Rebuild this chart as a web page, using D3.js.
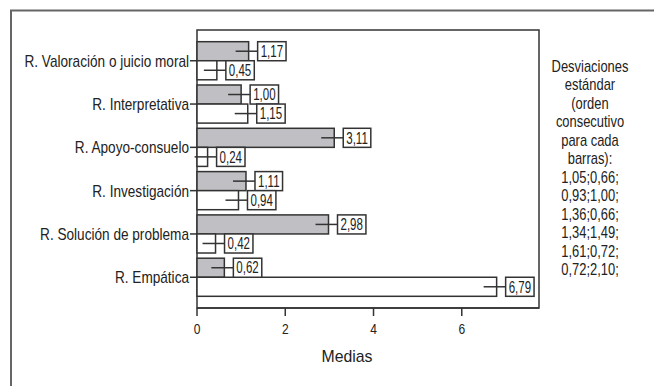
<!DOCTYPE html>
<html>
<head>
<meta charset="utf-8">
<script src="https://cdn.jsdelivr.net/npm/d3@7"></script>
<style>
  body { margin: 0; background: #fff; }
  svg text { font-family: "Liberation Sans", Arial, sans-serif; fill: #222; }
</style>
</head>
<body>
<svg id="chart" width="654" height="386"></svg>
<script>
var categories = ['R. Valoración o juicio moral', 'R. Interpretativa', 'R. Apoyo-consuelo',
  'R. Investigación', 'R. Solución de problema', 'R. Empática'];
var grayValues = [1.17, 1.00, 3.11, 1.11, 2.98, 0.62];
var whiteValues = [0.45, 1.15, 0.24, 0.94, 0.42, 6.79];
var xTicks = [0, 2, 4, 6];
var sdLines = ['Desviaciones', 'estándar', '(orden', 'consecutivo', 'para cada', 'barras):',
  '1,05;0,66;', '0,93;1,00;', '1,36;0,66;', '1,34;1,49;', '1,61;0,72;', '0,72;2,10;'];

var svg = d3.select('#chart');

// the original font is a condensed one, so squeeze the text horizontally
function squeeze (sel, factor) {
  sel.each(function () {
    var len = this.getComputedTextLength();
    d3.select(this).attr('textLength', len * factor).attr('lengthAdjust', 'spacingAndGlyphs');
  });
  return sel;
}

// outer frame, only top and left edges are visible
svg.append('path')
  .attr('d', 'M11,400 L11,10.5 L660,10.5')
  .attr('fill', 'none')
  .attr('stroke', '#666')
  .attr('stroke-width', 2);

var plot = {left: 197, top: 30, right: 539, bottom: 308};

var x = d3.scaleLinear().domain([0, 7.75]).range([plot.left, plot.right]);
var y = d3.scaleBand().domain(categories).range([plot.top, plot.bottom])
  .paddingInner(0.12).paddingOuter(0.27);
var sub = d3.scaleBand().domain(['gray', 'white']).range([0, y.bandwidth()]);

var fmt = function (v) { return d3.format('.2f')(v).replace('.', ','); };

// plot frame
svg.append('rect')
  .attr('x', plot.left).attr('y', plot.top)
  .attr('width', plot.right - plot.left).attr('height', plot.bottom - plot.top)
  .attr('fill', 'none').attr('stroke', '#333').attr('stroke-width', 1.5);

var rows = [];
categories.forEach(function (c, i) {
  rows.push({cat: c, key: 'gray', value: grayValues[i]});
  rows.push({cat: c, key: 'white', value: whiteValues[i]});
});

var bars = svg.append('g');
bars.selectAll('rect').data(rows).enter().append('rect')
  .attr('x', x(0))
  .attr('y', function (d) { return y(d.cat) + sub(d.key); })
  .attr('width', function (d) { return x(d.value) - x(0); })
  .attr('height', sub.bandwidth())
  .attr('fill', function (d) { return d.key === 'gray' ? '#c0c0c4' : '#fff'; })
  .attr('stroke', '#333')
  .attr('stroke-width', 1.5);

// value labels with leader line
var labels = svg.append('g');
rows.forEach(function (d) {
  var cy = y(d.cat) + sub(d.key) + sub.bandwidth() / 2;
  var bx = x(d.value) + 9;
  var t = labels.append('text')
    .attr('x', bx + 3).attr('y', cy)
    .attr('dy', '0.36em')
    .style('font-size', '16px')
    .text(fmt(d.value));
  squeeze(t, 0.72);
  var w = t.node().getComputedTextLength();
  labels.insert('rect', 'text')
    .attr('x', bx).attr('y', cy - sub.bandwidth() / 2)
    .attr('width', w + 6).attr('height', sub.bandwidth())
    .attr('fill', '#fff').attr('stroke', '#333').attr('stroke-width', 1.5);
  labels.append('line')
    .attr('x1', x(d.value) - 13).attr('x2', bx)
    .attr('y1', cy).attr('y2', cy)
    .attr('stroke', '#333').attr('stroke-width', 1.5);
});

// y axis
var yAxis = svg.append('g').attr('transform', 'translate(' + plot.left + ',0)');
categories.forEach(function (c) {
  var cy = y(c) + sub.bandwidth();
  yAxis.append('line').attr('x1', -7).attr('x2', 0).attr('y1', cy).attr('y2', cy)
    .attr('stroke', '#333').attr('stroke-width', 1.5);
  var t = yAxis.append('text').attr('x', -8).attr('y', cy).attr('dy', '0.36em')
    .attr('text-anchor', 'end').style('font-size', '17px').text(c);
  squeeze(t, 0.8);
});

// x axis
var xAxis = svg.append('g').attr('transform', 'translate(0,' + plot.bottom + ')');
xAxis.append('line').attr('x1', plot.left).attr('x2', plot.right)
  .attr('stroke', '#333').attr('stroke-width', 1.5);
xTicks.forEach(function (v) {
  xAxis.append('line').attr('x1', x(v)).attr('x2', x(v)).attr('y1', 0).attr('y2', 8)
    .attr('stroke', '#333').attr('stroke-width', 1.5);
  var t = xAxis.append('text').attr('x', x(v)).attr('y', 26)
    .attr('text-anchor', 'middle').style('font-size', '15px').text(v);
  squeeze(t, 0.8);
});
squeeze(svg.append('text').attr('x', 347).attr('y', 362)
  .attr('text-anchor', 'middle').style('font-size', '17px').text('Medias'), 0.93);

// standard deviations note
sdLines.forEach(function (s, i) {
  var t = svg.append('text').attr('text-anchor', 'middle').style('font-size', '17px')
    .attr('x', 590).attr('y', 71.5 + i * 18.5).text(s);
  squeeze(t, 0.76);
});
</script>
</body>
</html>
